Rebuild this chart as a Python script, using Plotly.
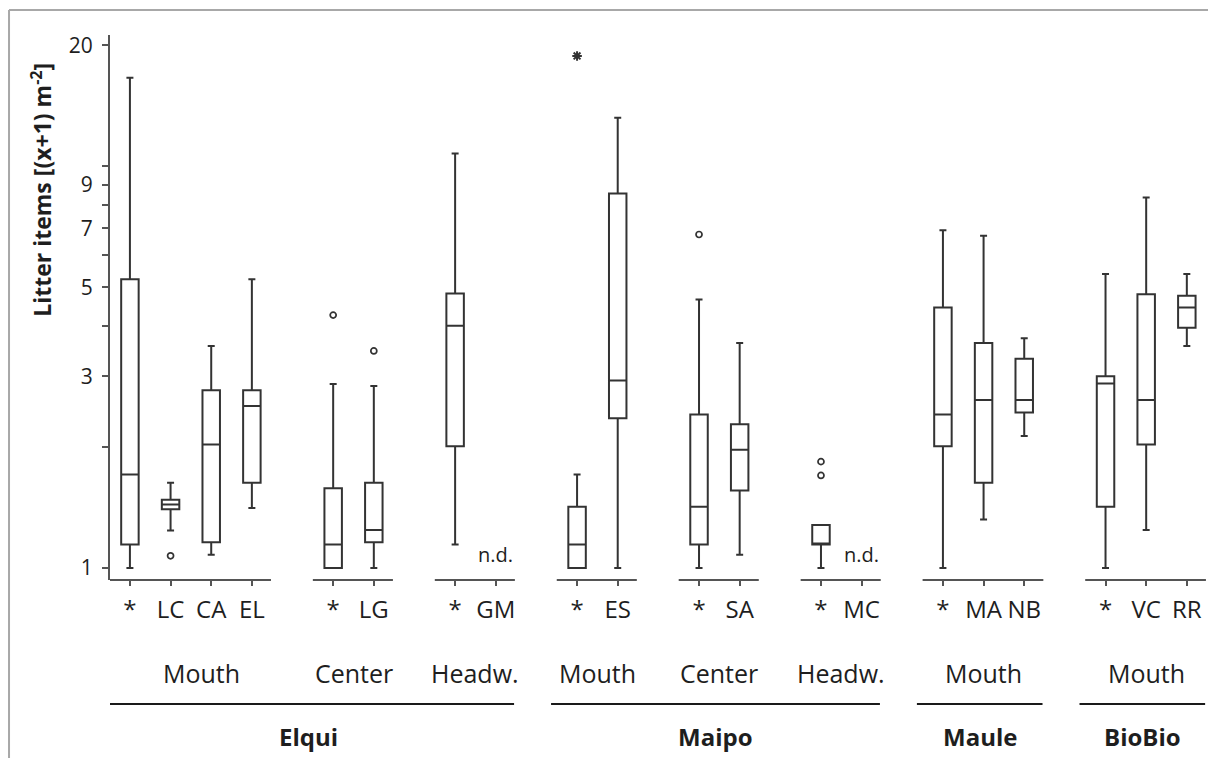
import math
import plotly.graph_objects as go

# ---------------- data ----------------
rivers = ["Elqui", "Elqui", "Elqui", "Maipo", "Maipo", "Maipo", "Maule", "BioBio"]
reaches = ["Mouth", "Center", "Headw.", "Mouth", "Center", "Headw.", "Mouth", "Mouth"]
group_sites = [["*", "LC", "CA", "EL"], ["*", "LG"], ["*", "GM"], ["*", "ES"],
               ["*", "SA"], ["*", "MC"], ["*", "MA", "NB"], ["*", "VC", "RR"]]

# box statistics per site (None = n.d.)
lower_whisker = [1.0, 1.24, 1.08, 1.41, 1.0, 1.0, 1.145, None, 1.0, 1.0,
                 1.0, 1.08, 1.0, None, 1.0, 1.32, 2.13, 1.0, 1.243, 3.57]
quartile1 = [1.145, 1.40, 1.16, 1.63, 1.0, 1.16, 2.01, None, 1.0, 2.36,
             1.145, 1.56, 1.145, None, 2.01, 1.63, 2.44, 1.42, 2.03, 3.96]
medians = [1.71, 1.44, 2.03, 2.53, 1.145, 1.243, 4.01, None, 1.145, 2.93,
           1.42, 1.97, 1.145, None, 2.41, 2.62, 2.62, 2.88, 2.62, 4.45]
quartile3 = [5.23, 1.48, 2.77, 2.77, 1.58, 1.63, 4.82, None, 1.42, 8.55,
             2.41, 2.28, 1.28, None, 4.45, 3.63, 3.32, 3.0, 4.80, 4.76]
upper_whisker = [16.6, 1.63, 3.57, 5.23, 2.87, 2.84, 10.75, None, 1.71, 13.2,
                 4.66, 3.63, 1.28, None, 6.93, 6.71, 3.73, 5.39, 8.36, 5.39]

# outliers: (site index, value)
outlier_site = [1, 4, 5, 10, 12, 12]
outlier_value = [1.073, 4.26, 3.47, 6.76, 1.70, 1.84]
extreme_site = [8]
extreme_value = [18.8]

y_tick_values = [1, 3, 5, 7, 9, 20]
y_tick_labels = ["1", "3", "5", "7", "9", "20"]
y_minor_ticks = [2, 4, 6, 8, 10]

# ---------------- layout helpers ----------------
positions, labels, group_pos = [], [], []
p = 0
for sites in group_sites:
    gp = []
    for s in sites:
        positions.append(p)
        labels.append(s)
        gp.append(p)
        p += 1
    group_pos.append(gp)
    p += 1

FONT = "Open Sans"
INK = "#333333"
TXT = "#1e1e1e"

fig = go.Figure()

sel = [i for i in range(len(positions)) if medians[i] is not None]
fig.add_trace(go.Box(
    x=[positions[i] for i in sel],
    q1=[quartile1[i] for i in sel],
    median=[medians[i] for i in sel],
    q3=[quartile3[i] for i in sel],
    lowerfence=[lower_whisker[i] for i in sel],
    upperfence=[upper_whisker[i] for i in sel],
    width=0.43, whiskerwidth=0.4,
    fillcolor="white", line=dict(color=INK, width=2),
    boxpoints=False, showlegend=False, hoverinfo="skip",
))

fig.add_trace(go.Scatter(
    x=[positions[i] for i in outlier_site], y=outlier_value, mode="markers",
    marker=dict(symbol="circle-open", size=6, color=INK, line=dict(width=1.7)),
    showlegend=False, hoverinfo="skip"))
fig.add_trace(go.Scatter(
    x=[positions[i] for i in extreme_site], y=extreme_value, mode="markers",
    marker=dict(symbol="asterisk-open", size=8, color=INK, line=dict(width=2)),
    showlegend=False, hoverinfo="skip"))

shapes = []
annotations = []
# axis segments per group
for gp in group_pos:
    shapes.append(dict(type="line", xref="x", yref="paper", x0=gp[0] - 0.5, x1=gp[-1] + 0.47,
                       y0=0, y1=0, line=dict(color="#555555", width=2)))

# reach labels
for gp, r in zip(group_pos, reaches):
    annotations.append(dict(xref="x", yref="paper", x=(gp[0] + gp[-1]) / 2 + (0.25 if len(gp) == 4 else 0),
                            y=-0.1706, text=r, showarrow=False, yanchor="middle",
                            font=dict(family=FONT, size=25, color=TXT)))

# river lines and labels
river_names = []
for r in rivers:
    if r not in river_names:
        river_names.append(r)
for rn in river_names:
    pts = [x for gp, r in zip(group_pos, rivers) if r == rn for x in gp]
    x0, x1 = min(pts) - 0.64, max(pts) + 0.45
    shapes.append(dict(type="line", xref="x", yref="paper", x0=x0, x1=x1,
                       y0=-0.2275, y1=-0.2275, line=dict(color="#1a1a1a", width=2)))
    annotations.append(dict(xref="x", yref="paper", x=(x0 + x1) / 2, y=-0.288, text="<b>" + rn + "</b>",
                            showarrow=False, yanchor="middle",
                            font=dict(family=FONT, size=24, color=TXT)))

# n.d. markers
for i in range(len(positions)):
    if medians[i] is None:
        annotations.append(dict(xref="x", yref="y", x=positions[i], y=0, text="n.d.",
                                showarrow=False, xanchor="center", yanchor="bottom", yshift=-2,
                                font=dict(family=FONT, size=20, color=TXT)))

# y-axis title
annotations.append(dict(xref="paper", yref="paper", x=-0.062, y=0.7156,
                        text="<b>Litter items [(x+1) m<sup>-2</sup>]</b>", textangle=-90,
                        showarrow=False, xanchor="center", yanchor="middle",
                        font=dict(family=FONT, size=23, color=TXT)))

# outer light frame (top and left edges only are visible in the window)
shapes.append(dict(type="line", xref="paper", yref="paper", x0=-0.0918, x1=1.3, y0=1.0459, y1=1.0459,
                   line=dict(color="#a8a8a8", width=2), layer="below"))
shapes.append(dict(type="line", xref="paper", yref="paper", x0=-0.0918, x1=-0.0918, y0=-0.8, y1=1.0459,
                   line=dict(color="#a8a8a8", width=2), layer="below"))

fig.update_layout(
    width=1216, height=758,
    margin=dict(l=102, r=14, t=27, b=186),
    paper_bgcolor="white", plot_bgcolor="white",
    shapes=shapes, annotations=annotations,
    font=dict(family=FONT, color=TXT),
    xaxis=dict(range=[-0.49, 26.57], tickvals=positions, ticktext=labels,
               ticks="outside", ticklen=5, tickwidth=1.5, tickcolor="#555555",
               showline=False, showgrid=False, zeroline=False,
               tickfont=dict(family=FONT, size=24, color=TXT), ticklabelstandoff=3),
    yaxis=dict(type="log", range=[math.log10(0.934), math.log10(21.2)],
               tickvals=y_tick_values, ticktext=y_tick_labels,
               ticks="outside", ticklen=6, tickwidth=1.5, tickcolor="#555555",
               minor=dict(tickvals=y_minor_ticks, ticks="outside", ticklen=6,
                          tickwidth=1.5, tickcolor="#555555", showgrid=False),
               showline=True, linecolor="#555555", linewidth=2,
               showgrid=False, zeroline=False, ticklabelstandoff=5,
               tickfont=dict(family=FONT, size=21, color=TXT)),
)

fig.write_html("out.html")
